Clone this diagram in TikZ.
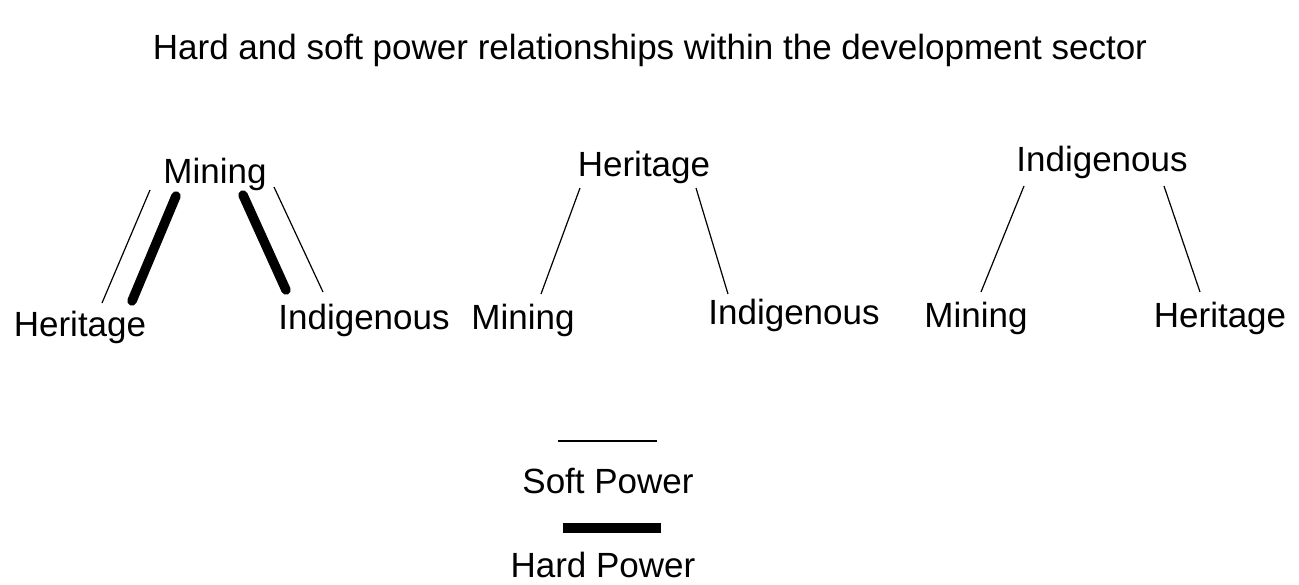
\documentclass[tikz,border=0pt]{standalone}
\usepackage{fontspec}
\setmainfont{Liberation Sans}
\begin{document}
\begin{tikzpicture}[x=1pt,y=-1pt,
  lbl/.style={inner sep=0pt,font=\fontsize{35}{40}\selectfont},
  soft/.style={line width=1.2pt},
  hard/.style={line width=9.5pt,line cap=round}]
\useasboundingbox[fill=white] (0,0) rectangle (1299,584);
\node[lbl] (title) at (650,50) {Hard and soft power relationships within the development sector};
% triad 1
\node[lbl] (m1) at (215,174) {Mining};
\node[lbl] (h1) at (80,327) {Heritage};
\node[lbl] (i1) at (364,320) {Indigenous};
\coordinate (a1) at (150,190); \coordinate (b1) at (102,303);
\coordinate (c1) at (176,196); \coordinate (d1) at (132,301);
\coordinate (e1) at (243,195); \coordinate (f1) at (286,290);
\coordinate (g1) at (274,187); \coordinate (k1) at (323,292);
\draw[soft] (a1) -- (b1);
\draw[hard] (c1) -- (d1);
\draw[hard] (e1) -- (f1);
\draw[soft] (g1) -- (k1);
% triad 2
\node[lbl] (h2) at (644,167) {Heritage};
\node[lbl] (m2) at (523,320) {Mining};
\node[lbl] (i2) at (794,315) {Indigenous};
\coordinate (a2) at (580,188); \coordinate (b2) at (541,294);
\coordinate (c2) at (696,188); \coordinate (d2) at (728,294);
\draw[soft] (a2) -- (b2);
\draw[soft] (c2) -- (d2);
% triad 3
\node[lbl] (i3) at (1102,162) {Indigenous};
\node[lbl] (m3) at (976,318) {Mining};
\node[lbl] (h3) at (1220,318) {Heritage};
\coordinate (a3) at (1024,186); \coordinate (b3) at (981,292);
\coordinate (c3) at (1164,186); \coordinate (d3) at (1200,292);
\draw[soft] (a3) -- (b3);
\draw[soft] (c3) -- (d3);
% legend
\coordinate (s1) at (558,441); \coordinate (s2) at (657,441);
\draw[soft] (s1) -- (s2);
\node[lbl] (sp) at (608,481) {Soft Power};
\coordinate (t1) at (563,528); \coordinate (t2) at (661,528);
\draw[line width=10pt] (t1) -- (t2);
\node[lbl] (hp) at (603,565) {Hard Power};
\end{tikzpicture}
\end{document}
